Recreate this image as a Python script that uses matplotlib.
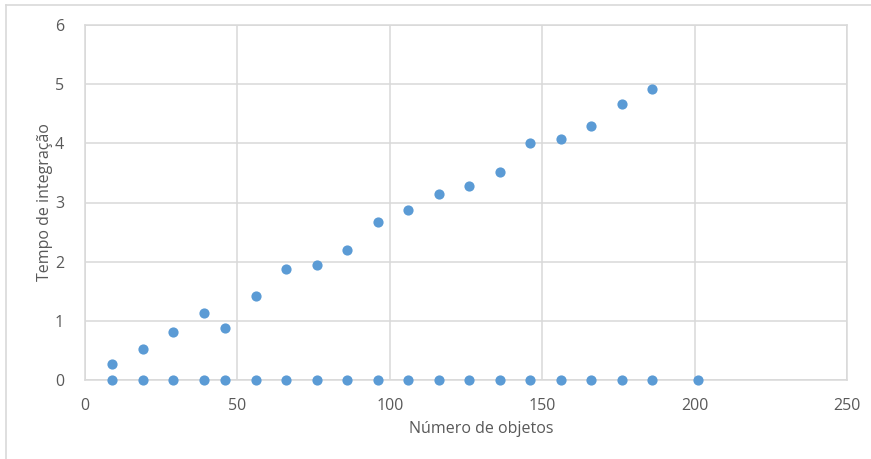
import numpy as np
import matplotlib.pyplot as plt
from matplotlib.lines import Line2D

# number of objects per run
n_objects = [9, 19, 29, 39, 46, 56, 66, 76, 86, 96, 106, 116, 126, 136, 146, 156, 166, 176, 186]
integration_time = [0.27, 0.52, 0.81, 1.13, 0.88, 1.42, 1.87, 1.94, 2.19, 2.67, 2.87,
                    3.14, 3.28, 3.51, 4.00, 4.07, 4.29, 4.66, 4.92]

# second run, all measured at zero
n_objects_zero = n_objects + [201]
integration_time_zero = [0.0] * len(n_objects_zero)

x_ticks = [0, 50, 100, 150, 200, 250]
y_ticks = [0, 1, 2, 3, 4, 5, 6]

plt.rcParams['font.family'] = ['Open Sans', 'DejaVu Sans']

point_color = "#5B9BD5"
grid_color = "#D9D9D9"
text_color = "#595959"

fig = plt.figure(figsize=(8.71, 4.59), dpi=100)
ax = fig.add_axes([85 / 871, 79 / 459, 762.3 / 871, 355 / 459])

ax.scatter(n_objects, integration_time, s=54, color=point_color, zorder=3, clip_on=False, linewidths=0)
ax.scatter(n_objects_zero, integration_time_zero, s=54, color=point_color, zorder=3, clip_on=False, linewidths=0)

ax.set_xlim(0, 250)
ax.set_ylim(0, 6)
ax.set_xticks(x_ticks)
ax.set_yticks(y_ticks)
ax.grid(True, color=grid_color, linewidth=1.1)
ax.set_axisbelow(True)
for side in ax.spines.values():
    side.set_color(grid_color)
    side.set_linewidth(1.1)
ax.tick_params(length=0, labelsize=11.5, colors=text_color)
ax.tick_params(axis="x", pad=13)
ax.tick_params(axis="y", pad=15)

ax.set_xlabel("Número de objetos", fontsize=11.5, color=text_color)
ax.xaxis.set_label_coords((481 - 85) / 762.3, -41 / 355)
ax.set_ylabel("Tempo de integração", fontsize=11.5, color=text_color)
ax.yaxis.set_label_coords(-32 / 762.3, 0.5)

# frame edges along top and left
fig.add_artist(Line2D([6 / 871, 1], [1 - 5 / 459, 1 - 5 / 459], color=grid_color, linewidth=1.2))
fig.add_artist(Line2D([6 / 871, 6 / 871], [0, 1 - 5 / 459], color=grid_color, linewidth=1.2))

fig.savefig("out.png", dpi=100)
